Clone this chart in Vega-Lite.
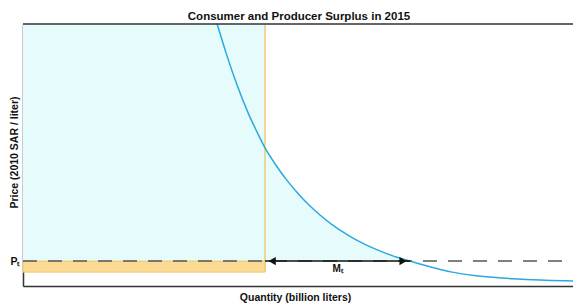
{
  "$schema": "https://vega.github.io/schema/vega-lite/v6.json",
  "width": 552,
  "height": 262,
  "autosize": "none",
  "padding": {"left": 23, "top": 24, "right": 0, "bottom": 17},
  "background": "white",
  "config": {
    "view": {"stroke": null},
    "font": "Liberation Sans"
  },
  "title": {
    "text": "Consumer and Producer Surplus in 2015",
    "fontSize": 11.5,
    "fontWeight": "bold",
    "font": "Liberation Sans",
    "color": "#111",
    "offset": -1,
    "anchor": "middle"
  },
  "datasets": {
    "curve": [
      {"q": 35.3, "p": 100},
      {"q": 37, "p": 88.4},
      {"q": 39, "p": 76.2},
      {"q": 41, "p": 65.7},
      {"q": 42.5, "p": 59.0},
      {"q": 44, "p": 52.7},
      {"q": 46, "p": 46.1},
      {"q": 48, "p": 40.3},
      {"q": 50, "p": 35.3},
      {"q": 52, "p": 30.9},
      {"q": 54, "p": 27.1},
      {"q": 56, "p": 23.75},
      {"q": 58, "p": 20.85},
      {"q": 60, "p": 18.3},
      {"q": 62, "p": 16.1},
      {"q": 64, "p": 14.15},
      {"q": 66, "p": 12.45},
      {"q": 68, "p": 10.95},
      {"q": 70.4, "p": 9.5},
      {"q": 72, "p": 8.5},
      {"q": 75, "p": 6.8},
      {"q": 78, "p": 5.3},
      {"q": 82, "p": 4.0},
      {"q": 86, "p": 3.2},
      {"q": 90, "p": 2.7},
      {"q": 95, "p": 2.2},
      {"q": 100.4, "p": 1.9}
    ],
    "surplus": [
      {"q": 44, "p": 52.7, "pt": 9.5},
      {"q": 46, "p": 46.1, "pt": 9.5},
      {"q": 48, "p": 40.3, "pt": 9.5},
      {"q": 50, "p": 35.3, "pt": 9.5},
      {"q": 52, "p": 30.9, "pt": 9.5},
      {"q": 54, "p": 27.1, "pt": 9.5},
      {"q": 56, "p": 23.75, "pt": 9.5},
      {"q": 58, "p": 20.85, "pt": 9.5},
      {"q": 60, "p": 18.3, "pt": 9.5},
      {"q": 62, "p": 16.1, "pt": 9.5},
      {"q": 64, "p": 14.15, "pt": 9.5},
      {"q": 66, "p": 12.45, "pt": 9.5},
      {"q": 68, "p": 10.95, "pt": 9.5},
      {"q": 70.4, "p": 9.5, "pt": 9.5}
    ],
    "boxes": [
      {"name": "consumer", "q0": 0, "q1": 44.0, "p0": 9.5, "p1": 100},
      {"name": "producer", "q0": 0, "q1": 44.0, "p0": 5.3, "p1": 9.5}
    ],
    "price": [{"q0": 0, "q1": 100.36, "pt": 9.5}],
    "imports": [{"q0": 44.0, "q1": 70.4, "pt": 9.5, "label": "Mₜ", "qm": 57.2, "pl": 6.6}],
    "heads": [
      {"q": 45.3, "pt": 9.5, "shape": "triangle-left"},
      {"q": 69.1, "pt": 9.5, "shape": "triangle-right"}
    ],
    "qline": [{"q": 44.0, "p0": 5.3, "p1": 100}]
  },
  "layer": [
    {
      "data": {"name": "boxes"},
      "transform": [{"filter": "datum.name == 'consumer'"}],
      "mark": {"type": "rect", "color": "#e6fcfc"},
      "encoding": {
        "x": {"field": "q0", "type": "quantitative", "scale": {"domain": [0, 100.36], "nice": false, "zero": false},
          "axis": {"domain": true, "domainColor": "#333", "domainWidth": 1.5, "ticks": false, "labels": false, "grid": false,
            "title": "Quantity (billion liters)", "titleFontSize": 10.5, "titleFontWeight": "bold", "titleColor": "#111", "titlePadding": 6, "titleX": 272}},
        "x2": {"field": "q1"},
        "y": {"field": "p0", "type": "quantitative", "scale": {"domain": [0, 100], "nice": false, "zero": false},
          "axis": {"domain": true, "domainColor": "#333", "domainWidth": 1.5, "ticks": false, "grid": false,
            "values": [9.5], "labelExpr": "'Pₜ'", "labelFontSize": 10.5, "labelFontWeight": "bold", "labelColor": "#111", "labelPadding": 4,
            "title": "Price (2010 SAR / liter)", "titleFontSize": 10.5, "titleFontWeight": "bold", "titleColor": "#111", "titlePadding": 0, "titleX": -4, "titleY": 128}},
        "y2": {"field": "p1"}
      }
    },
    {
      "data": {"name": "surplus"},
      "mark": {"type": "area", "color": "#e6fcfc", "interpolate": "monotone"},
      "encoding": {
        "x": {"field": "q", "type": "quantitative"},
        "y": {"field": "p", "type": "quantitative"},
        "y2": {"field": "pt"}
      }
    },
    {
      "data": {"name": "boxes"},
      "transform": [{"filter": "datum.name == 'producer'"}],
      "mark": {"type": "rect", "color": "#fbda93", "stroke": "#efc670", "strokeWidth": 1},
      "encoding": {
        "x": {"field": "q0", "type": "quantitative"},
        "x2": {"field": "q1"},
        "y": {"field": "p0", "type": "quantitative"},
        "y2": {"field": "p1"}
      }
    },
    {
      "data": {"name": "qline"},
      "mark": {"type": "rule", "color": "#f0cd80", "strokeWidth": 1.6},
      "encoding": {
        "x": {"field": "q", "type": "quantitative"},
        "y": {"field": "p0", "type": "quantitative"},
        "y2": {"field": "p1"}
      }
    },
    {
      "data": {"name": "curve"},
      "mark": {"type": "line", "color": "#2aa8df", "strokeWidth": 1.5, "interpolate": "monotone"},
      "encoding": {
        "x": {"field": "q", "type": "quantitative"},
        "y": {"field": "p", "type": "quantitative"}
      }
    },
    {
      "data": {"name": "price"},
      "mark": {"type": "rule", "color": "#555", "strokeWidth": 1.5, "strokeDash": [14, 11]},
      "encoding": {
        "x": {"field": "q0", "type": "quantitative"},
        "x2": {"field": "q1"},
        "y": {"field": "pt", "type": "quantitative"}
      }
    },
    {
      "data": {"name": "imports"},
      "mark": {"type": "rule", "color": "#111", "strokeWidth": 1.5},
      "encoding": {
        "x": {"field": "q0", "type": "quantitative"},
        "x2": {"field": "q1"},
        "y": {"field": "pt", "type": "quantitative"}
      }
    },
    {
      "data": {"name": "heads"},
      "mark": {"type": "point", "filled": true, "color": "#111", "size": 70, "opacity": 1},
      "encoding": {
        "x": {"field": "q", "type": "quantitative"},
        "y": {"field": "pt", "type": "quantitative"},
        "shape": {"field": "shape", "type": "nominal", "scale": null, "legend": null}
      }
    },
    {
      "data": {"name": "imports"},
      "mark": {"type": "text", "fontSize": 10, "fontWeight": "bold", "color": "#111", "baseline": "middle"},
      "encoding": {
        "x": {"field": "qm", "type": "quantitative"},
        "y": {"field": "pl", "type": "quantitative"},
        "text": {"field": "label"}
      }
    },
    {
      "data": {"values": [{"a": 0, "b": 100.36, "top": 100}]},
      "mark": {"type": "rule", "color": "#333", "strokeWidth": 1.5},
      "encoding": {
        "x": {"field": "a", "type": "quantitative"},
        "x2": {"field": "b"},
        "y": {"field": "top", "type": "quantitative"}
      }
    }
  ]
}
